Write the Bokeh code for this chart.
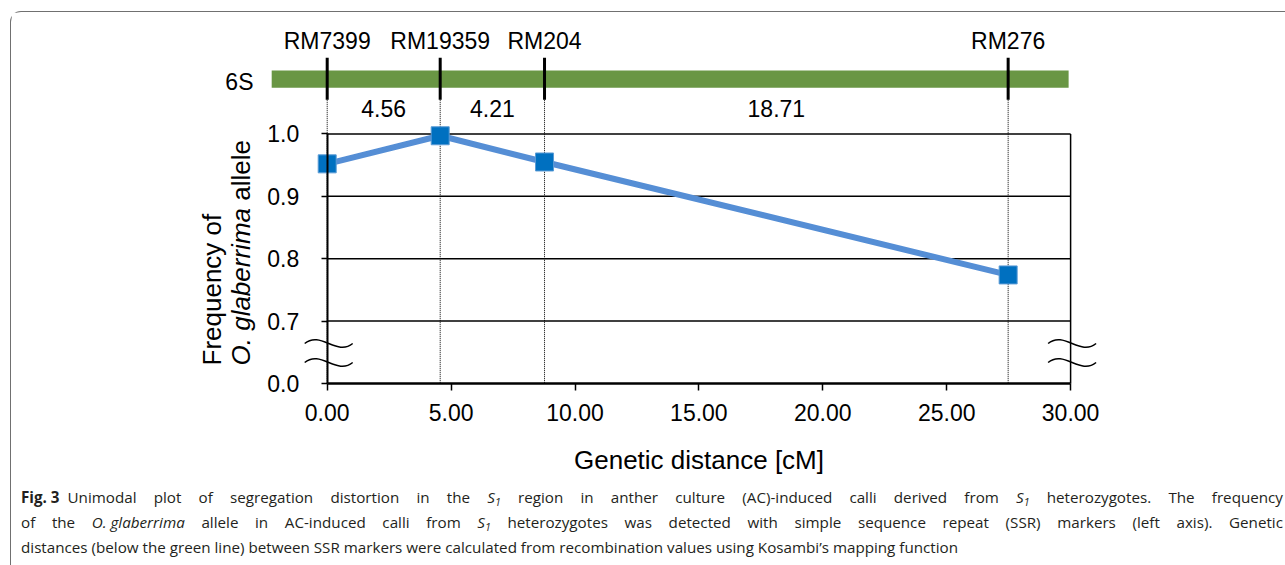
import numpy as np
from bokeh.plotting import figure
from bokeh.models import Range1d, FixedTicker, ColumnDataSource, Div
from bokeh.layouts import column
from bokeh.core.properties import value
from bokeh.embed import file_html
from bokeh.resources import INLINE

# ---------------- data ----------------
marker_names = ["RM7399", "RM19359", "RM204", "RM276"]
intervals = [4.56, 4.21, 18.71]                 # genetic distances between markers (cM)
positions = [0.00, 4.56, 8.77, 27.48]            # cumulative position (cM)
frequency = [0.952, 0.997, 0.955, 0.774]         # frequency of O. glaberrima allele
x_ticks = [0, 5, 10, 15, 20, 25, 30]
x_tick_labels = ["0.00", "5.00", "10.00", "15.00", "20.00", "25.00", "30.00"]
y_ticks = [0.6, 0.7, 0.8, 0.9, 1.0]              # 0.6 slot shows the broken-axis "0.0"
y_tick_labels = ["0.0", "0.7", "0.8", "0.9", "1.0"]
y_grid = [0.7, 0.8, 0.9, 1.0]
chrom_name = "6S"
chrom_span = [-2.24, 29.92]

# ---------------- geometry helpers (decoration only) ----------------
FONT = "Liberation Sans"
W, H = 1274, 471
MB_L, MB_R, MB_T, MB_B = 80, 5, 5, 3
PXX, PXY = 24.78, 624.0          # pixels per unit
X0_CANVAS = 315.7                # canvas px of x = 0
Y06_CANVAS = 371.0               # canvas px of y = 0.6
frame_w = W - MB_L - MB_R
x_start = -(X0_CANVAS - MB_L) / PXX
x_end = x_start + frame_w / PXX
y_end = 0.6 + (Y06_CANVAS - MB_T) / PXY
y_start = 0.6 - ((H - MB_B) - Y06_CANVAS) / PXY

PAGE_X0 = 11 + X0_CANVAS         # page x of x=0
PAGE_Y06 = 12 + Y06_CANVAS       # page y of y=0.6
def dx(px):
    return (px - PAGE_X0) / PXX
def dy(py):
    return 0.6 + (PAGE_Y06 - py) / PXY

p = figure(width=W, height=H, x_range=Range1d(x_start, x_end), y_range=Range1d(y_start, y_end),
           output_backend="svg", toolbar_location=None,
           min_border_left=MB_L, min_border_right=MB_R, min_border_top=MB_T, min_border_bottom=MB_B)
p.outline_line_color = None
p.background_fill_color = "white"
p.border_fill_color = "white"
p.xgrid.visible = False
p.ygrid.visible = False

# x axis (positioned at y = 0.6, i.e. the displayed 0.0 of the broken axis)
xa = p.xaxis[0]
xa.fixed_location = 0.6
xa.ticker = FixedTicker(ticks=x_ticks)
xa.major_label_overrides = {t: l for t, l in zip(x_ticks, x_tick_labels)}
xa.bounds = (0, 30)
xa.axis_line_width = 2.5
xa.axis_line_color = "black"
xa.major_tick_in = 0
xa.major_tick_out = 7
xa.major_tick_line_width = 1.5
xa.major_tick_line_color = "black"
xa.minor_tick_line_color = None
xa.major_label_text_font = FONT
xa.major_label_text_font_size = "23px"
xa.major_label_text_color = "black"
xa.major_label_standoff = 13
xa.axis_label = "Genetic distance [cM]"
xa.axis_label_text_font = FONT
xa.axis_label_text_font_size = "26px"
xa.axis_label_text_font_style = "normal"
xa.axis_label_text_color = "black"
xa.axis_label_standoff = 21

# y axis (positioned at x = 0)
ya = p.yaxis[0]
ya.fixed_location = 0
ya.ticker = FixedTicker(ticks=y_ticks)
ya.major_label_overrides = {t: l for t, l in zip(y_ticks, y_tick_labels)}
ya.bounds = (0.6, 1.0)
ya.axis_line_width = 2
ya.axis_line_color = "black"
ya.major_tick_in = 0
ya.major_tick_out = 6
ya.major_tick_line_width = 1.5
ya.major_tick_line_color = "black"
ya.minor_tick_line_color = None
ya.major_label_text_font = FONT
ya.major_label_text_font_size = "23px"
ya.major_label_text_color = "black"
ya.major_label_standoff = 22

# gridlines and right frame line
p.segment(x0=[x_ticks[0]] * len(y_grid), x1=[x_ticks[-1]] * len(y_grid), y0=y_grid, y1=y_grid,
          line_color="black", line_width=1.5)
p.segment(x0=[x_ticks[-1]], x1=[x_ticks[-1]], y0=[y_ticks[0]], y1=[y_ticks[-1]],
          line_color="black", line_width=1.5)

# chromosome bar
p.quad(left=[chrom_span[0]], right=[chrom_span[1]], bottom=[dy(87.3)], top=[dy(70)],
       fill_color="#699644", line_color=None)
p.text(x=[dx(253)], y=[dy(81)], text=[chrom_name], text_font=value(FONT), text_font_size="23px",
       text_align="right", text_baseline="middle", text_color="black")

# marker ticks on chromosome and dotted drop lines
p.segment(x0=positions, x1=positions, y0=[dy(57.3)] * 4, y1=[dy(99.3)] * 4,
          line_color="black", line_width=3)
p.segment(x0=positions, x1=positions, y0=[dy(99.3)] * 4, y1=[0.6] * 4,
          line_color="black", line_width=1, line_dash="1 1")

# marker names
p.text(x=positions, y=[dy(40)] * 4, text=marker_names, text_font=value(FONT), text_font_size="23px",
       text_align="center", text_baseline="middle", text_color="black")

# interval labels
mids = [(positions[i] + positions[i + 1]) / 2 for i in range(len(intervals))]
p.text(x=mids, y=[dy(107.5)] * 3, text=["%.2f" % v for v in intervals], text_font=value(FONT),
       text_font_size="23px", text_align="center", text_baseline="middle", text_color="black")

# data
src = ColumnDataSource(dict(x=positions, y=frequency))
p.line("x", "y", source=src, line_color="#558ED5", line_width=6)
p.scatter("x", "y", source=src, marker="square", size=18, fill_color="#0070C0",
          line_color="#5B9BD5", line_width=1)

# axis break marks
bx0, by0, bx1, by1, c0x, c0y, c1x, c1y = [], [], [], [], [], [], [], []
for xc_px in (PAGE_X0 + 1.5, PAGE_X0 + 30 * PXX + 1.5):
    for yc_px in (343, 362):
        bx0.append(dx(xc_px - 24)); by0.append(dy(yc_px))
        c0x.append(dx(xc_px - 8)); c0y.append(dy(yc_px - 13))
        c1x.append(dx(xc_px + 8)); c1y.append(dy(yc_px + 13))
        bx1.append(dx(xc_px + 24)); by1.append(dy(yc_px))
p.bezier(x0=bx0, y0=by0, x1=bx1, y1=by1, cx0=c0x, cy0=c0y, cx1=c1x, cy1=c1y,
         line_color="black", line_width=1.5)

# y axis title (two lines, rotated)
y_start_title = dy(365)
p.text(x=[dx(211.5)], y=[y_start_title], text=["Frequency of"], angle=np.pi / 2,
       text_font=value(FONT), text_font_size="26px", text_align="left",
       text_baseline="alphabetic", text_color="black")
p.text(x=[dx(240.5)], y=[y_start_title], text=["O. glaberrima"], angle=np.pi / 2,
       text_font=value(FONT), text_font_size="26px", text_font_style="italic",
       text_align="left", text_baseline="alphabetic", text_color="black")
p.text(x=[dx(240.5)], y=[y_start_title + 6.335 * 26 / PXY], text=["allele"], angle=np.pi / 2,
       text_font=value(FONT), text_font_size="26px", text_align="left",
       text_baseline="alphabetic", text_color="black")

# caption (justified like the journal layout; last line natural width)
S1 = '<i>S</i><sub style="font-size:70%;vertical-align:-0.25em;line-height:0"><i>1</i></sub>'
J = 'style="width:1262px;text-align:justify;text-align-last:justify;white-space:nowrap;"'
IB = '<span style="display:inline-block;">'
caption_html = (
    '<div style="font-family:\'Open Sans\';font-size:15.2px;line-height:25px;'
    'color:#231f20;padding-left:5px;margin-top:-3px;">'
    '<div ' + J + '>' + IB + '<b style="margin-right:8px;">Fig. 3</b>Unimodal</span> plot of segregation distortion in the ' + S1 +
    ' region in anther culture (AC)-induced calli derived from ' + S1 +
    ' heterozygotes. The frequency</div>'
    '<div ' + J + '>of the ' + IB + '<i>O. glaberrima</i></span> allele in AC-induced calli from ' + S1 +
    ' heterozygotes was detected with simple sequence repeat (SSR) markers (left axis). Genetic</div>'
    '<div style="white-space:nowrap;">distances (below the green line) between SSR markers were '
    'calculated from recombination values using Kosambi\u2019s mapping function</div>'
    '</div>'
)
cap = Div(text=caption_html, width=W, height=72)

layout = column(p, cap, styles={"border-top": "1px solid #707070", "border-left": "1px solid #707070",
                                "border-top-left-radius": "11px", "margin-top": "11px",
                                "margin-left": "10px"})

open("out.html", "w").write(file_html(layout, INLINE))
